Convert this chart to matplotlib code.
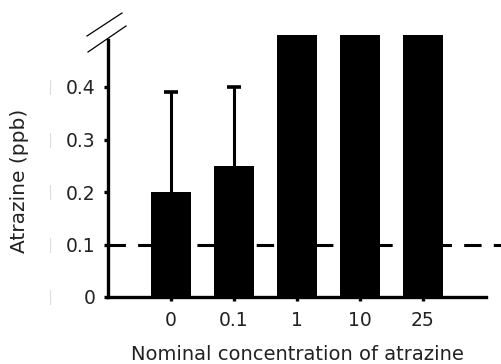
import matplotlib
matplotlib.use("Agg")
import matplotlib.pyplot as plt
import numpy as np

categories = ["0", "0.1", "1", "10", "25"]
values = [0.20, 0.25, 0.60, 0.60, 0.60]
err_upper = [0.19, 0.15, 0.0, 0.0, 0.0]
threshold = 0.1
yticks = [0, 0.1, 0.2, 0.3, 0.4]
yticklabels = ["0", "0.1", "0.2", "0.3", "0.4"]

plt.rcParams['font.family'] = ['DejaVu Sans']
txt = '#222222'

fig = plt.figure(figsize=(5.01, 3.64), dpi=100)
ax = fig.add_axes([108/501, 1-297/364, (486-108)/501, (297-34.5)/364])

x = np.arange(len(categories))
ax.bar(x, values, width=0.63, color='black', zorder=2)
for xi, v, e in zip(x, values, err_upper):
    if e > 0:
        ax.vlines(xi, v, v + e, color='black', lw=2.2, zorder=1)
        ax.plot([xi], [v + e], marker='_', markersize=10, mew=2.6,
                color='black', zorder=1)

ax.plot([-1, 5.4], [threshold, threshold], color='black', lw=2.2,
        linestyle=(0, (5.7, 4.0)), clip_on=False, zorder=3)

ax.set_xlim(-1, 5)
ax.set_ylim(0, 0.5)
ax.spines['top'].set_visible(False)
ax.spines['right'].set_visible(False)
ax.spines['left'].set_linewidth(2.4)
ax.spines['bottom'].set_linewidth(2.4)
ax.spines['left'].set_bounds(0, 0.49)

ax.set_xticks(x)
ax.set_xticklabels(categories)
ax.set_yticks(yticks)
ax.set_yticklabels(yticklabels)
ax.tick_params(axis='both', length=3, width=2.4, labelsize=13.5, colors='black',
               labelcolor=txt)
ax.tick_params(axis='y', pad=6)
ax.tick_params(axis='x', pad=7)

fig.text(20/501, 1-181/364, "Atrazine (ppb)", rotation=90, fontsize=14.5,
         color=txt, ha='center', va='center')
fig.text(297/501, 1-354/364, "Nominal concentration of atrazine", fontsize=14,
         color=txt, ha='center', va='center')

# axis break marks
for (x0, y0, x1, y1) in [(87, 36, 122, 13), (88, 52, 126, 26)]:
    fig.add_artist(plt.Line2D([x0/501, x1/501], [1-y0/364, 1-y1/364],
                              color='black', lw=0.9))

# faint marks at the far left
for yt in yticks:
    yp = 297 - yt*525
    fig.add_artist(plt.Line2D([50/501, 50/501], [1-(yp-7)/364, 1-(yp+7)/364],
                              color='#dddddd', lw=0.8))

fig.savefig("out.png", dpi=100)
